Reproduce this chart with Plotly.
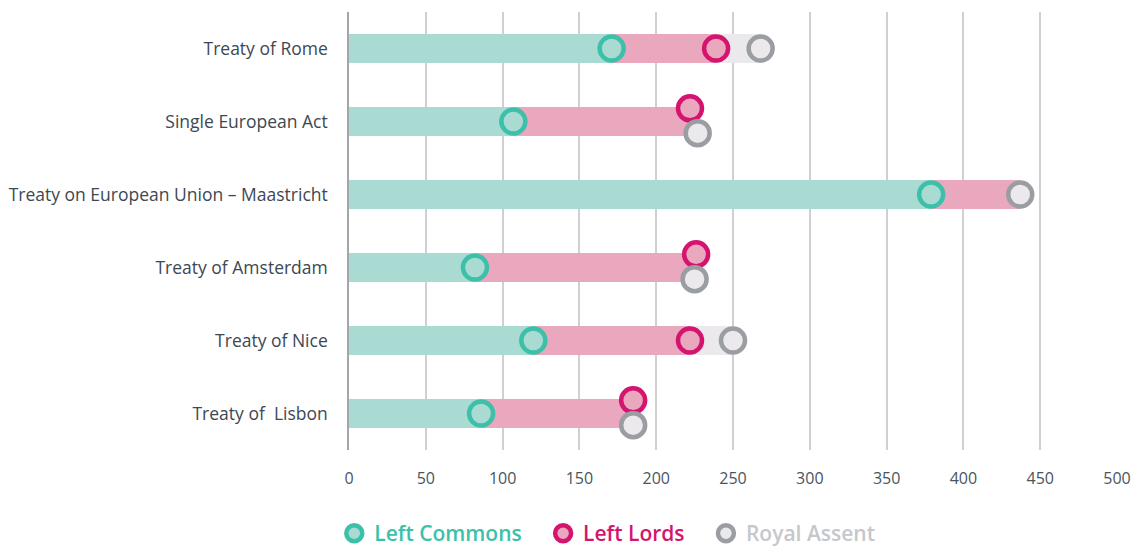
import plotly.graph_objects as go

treaties = ["Treaty of Rome", "Single European Act", "Treaty on European Union – Maastricht",
            "Treaty of Amsterdam", "Treaty of Nice", "Treaty of  Lisbon"]
left_commons = [171, 107, 379, 82, 120, 86]
left_lords = [239, 222, None, 226, 222, 185]
royal_assent = [268, 227, 437, 225, 250, 185]
x_ticks = [0, 50, 100, 150, 200, 250, 300, 350, 400, 450, 500]

GREEN_BAR, GREEN = "#aadbd3", "#3cc0a9"
PINK_BAR, PINK = "#e9a8bd", "#d4146f"
GREY_BAR, GREY = "#ebe9ec", "#9a9da2"
FONT = "Open Sans"

ypos = list(range(len(treaties)))
lords_end = [l if l is not None else r for l, r in zip(left_lords, royal_assent)]

# vertical nudge for overlapping lords / royal markers
lords_y, royal_y = [], []
for i, (l, r) in enumerate(zip(left_lords, royal_assent)):
    if l is not None and abs(l - r) < 10:
        lords_y.append(i - 0.18)
        royal_y.append(i + 0.16)
    else:
        lords_y.append(i)
        royal_y.append(i)

fig = go.Figure()
bw = 0.39
fig.add_trace(go.Bar(y=ypos, x=left_commons, base=[0] * len(ypos), orientation="h",
                     marker=dict(color=GREEN_BAR, line_width=0), width=bw, showlegend=False, hoverinfo="skip"))
fig.add_trace(go.Bar(y=ypos, x=[e - c for e, c in zip(lords_end, left_commons)], base=left_commons,
                     orientation="h", marker=dict(color=PINK_BAR, line_width=0), width=bw,
                     showlegend=False, hoverinfo="skip"))
fig.add_trace(go.Bar(y=ypos, x=[r - e for r, e in zip(royal_assent, lords_end)], base=lords_end,
                     orientation="h", marker=dict(color=GREY_BAR, line_width=0), width=bw,
                     showlegend=False, hoverinfo="skip"))

msize = 24
mline = 4.5
pad = "\u00a0\u00a0\u00a0"
fig.add_trace(go.Scatter(x=left_commons, y=ypos, mode="markers",
                         name=f"<span style='color:{GREEN}'>Left Commons{pad}</span>",
                         marker=dict(size=msize, color=GREEN_BAR, line=dict(color=GREEN, width=mline))))
fig.add_trace(go.Scatter(x=left_lords, y=lords_y, mode="markers",
                         name=f"<span style='color:{PINK}'>Left Lords{pad}</span>",
                         marker=dict(size=msize, color=PINK_BAR, line=dict(color=PINK, width=mline))))
fig.add_trace(go.Scatter(x=royal_assent, y=royal_y, mode="markers",
                         name="<span style='color:#c5c7cc'>Royal Assent</span>",
                         marker=dict(size=msize, color=GREY_BAR, line=dict(color=GREY, width=mline))))

fig.update_layout(
    width=1137, height=549,
    margin=dict(l=349, r=20, t=12, b=99, autoexpand=False),
    plot_bgcolor="white", paper_bgcolor="white",
    barmode="overlay",
    font=dict(family=FONT, color="#3d4852"),
    showlegend=True,
    legend=dict(orientation="h", x=0.294, xref="container", xanchor="left",
                y=0.028, yref="container", yanchor="middle",
                font=dict(size=21, family=FONT, weight=600), itemsizing="trace",
                traceorder="normal", bgcolor="rgba(0,0,0,0)", itemwidth=30),
    xaxis=dict(range=[0, 500], tickvals=x_ticks, showgrid=True, gridcolor="#d0d0d3", gridwidth=1.5,
               zeroline=False, showline=False, tickfont=dict(size=16, color="#4a5560"),
               ticklabelstandoff=17, fixedrange=True, automargin=False),
    yaxis=dict(range=[5.5, -0.5], tickvals=ypos, ticktext=treaties, showgrid=False, zeroline=False,
               showline=True, linecolor="#a3a5a8", linewidth=1.5, automargin=False,
               tickfont=dict(size=17.5, color="#3d4852"), ticklabelstandoff=16, fixedrange=True),
    bargap=0,
)

fig.write_html("out.html", config={"displayModeBar": False},
               post_script="document.body.style.margin='0';document.body.style.overflow='hidden';")
